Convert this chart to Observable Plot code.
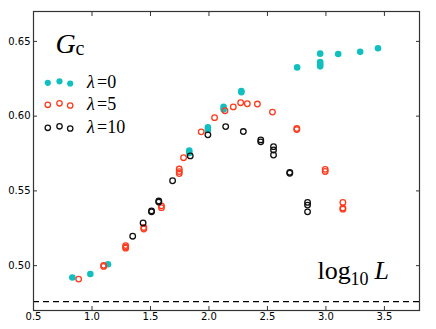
<!DOCTYPE html>
<html>
<head>
<meta charset="utf-8">
<script src="https://cdn.jsdelivr.net/npm/d3@7"></script>
<script src="https://cdn.jsdelivr.net/npm/@observablehq/plot@0.6"></script>
<style>
  body { margin: 0; background: #fff; }
</style>
</head>
<body>
<div id="chart"></div>
<script>
// λ = 0 (filled cyan)
const lam0X = [0.832, 0.986, 1.137, 1.832, 1.832, 1.991, 1.991, 2.125, 2.125, 2.277, 2.277, 2.754, 2.951, 2.951, 2.951, 2.951, 3.105, 3.293, 3.445];
const lam0Y = [0.4921, 0.4944, 0.5009, 0.5770, 0.5754, 0.5926, 0.5908, 0.6062, 0.6045, 0.6168, 0.6160, 0.6326, 0.6418, 0.6362, 0.6347, 0.6333, 0.6416, 0.6430, 0.6454];
// λ = 5 (open red)
const lam5X = [0.886, 1.100, 1.100, 1.288, 1.288, 1.288, 1.443, 1.443, 1.594, 1.594, 1.746, 1.746, 1.746, 1.783, 1.934, 2.048, 2.137, 2.208, 2.271, 2.328, 2.414, 2.543, 2.751, 2.751, 2.994, 2.994, 3.145, 3.145, 3.145];
const lam5Y = [0.4910, 0.4995, 0.5002, 0.5134, 0.5124, 0.5117, 0.5255, 0.5245, 0.5400, 0.5388, 0.5646, 0.5629, 0.5616, 0.5722, 0.5895, 0.5990, 0.6036, 0.6062, 0.6090, 0.6083, 0.6081, 0.6027, 0.5917, 0.5910, 0.5644, 0.5630, 0.5423, 0.5385, 0.5378];
// λ = 10 (open black)
const lam10X = [1.348, 1.437, 1.509, 1.509, 1.571, 1.571, 1.689, 1.840, 1.991, 2.143, 2.294, 2.443, 2.443, 2.552, 2.552, 2.552, 2.691, 2.691, 2.843, 2.843, 2.843];
const lam10Y = [0.5197, 0.5286, 0.5366, 0.5360, 0.5432, 0.5425, 0.5568, 0.5734, 0.5875, 0.5930, 0.5897, 0.5841, 0.5828, 0.5796, 0.5774, 0.5740, 0.5624, 0.5618, 0.5423, 0.5405, 0.5360];

const xTicks = [0.5, 1.0, 1.5, 2.0, 2.5, 3.0, 3.5];
const yTicks = [0.50, 0.55, 0.60, 0.65];
const baseline = [0.476];
const legendLabels = ["=0", "=5", "=10"];

const cyan = "#12bfbf";
const red = "#ff3b1f";
const black = "#111";

const toPts = (xs, ys) => xs.map((x, i) => ({x, y: ys[i]}));

const serif = "'Liberation Serif', 'DejaVu Serif', serif";

// legend marks
const legendMarks = [];
const colX = [14.3, 26, 36.7];
const rowY = [71.3, 93.3, 116.3];
const jitter = [0, -1.5, 0.7];
const rowColors = [cyan, red, black];
rowY.forEach((ry, r) => {
  colX.forEach((cx, c) => {
    const opts = {frameAnchor: "top-left", dx: cx, dy: ry + jitter[c], r: r === 0 ? 3.1 : 2.7};
    if (r === 0) Object.assign(opts, {fill: rowColors[r], stroke: "none"});
    else Object.assign(opts, {fill: "none", stroke: rowColors[r], strokeWidth: 1.3});
    legendMarks.push(Plot.dot([0], opts));
  });
  legendMarks.push(Plot.text(["λ"], {frameAnchor: "top-left", dx: 53.5, dy: ry + 5, text: d => d, textAnchor: "start", lineAnchor: "bottom", fontFamily: serif, fontStyle: "italic", fontSize: 18, fill: "#000"}));
  legendMarks.push(Plot.text([legendLabels[r]], {frameAnchor: "top-left", dx: 63.5, dy: ry + 5, text: d => d, textAnchor: "start", lineAnchor: "bottom", fontFamily: serif, fontSize: 18, fill: "#000"}));
});

const chart = Plot.plot({
  width: 436,
  height: 329,
  marginLeft: 33,
  marginRight: 17,
  marginTop: 11,
  marginBottom: 19,
  style: {fontFamily: "'DejaVu Sans', sans-serif", fontSize: "10px", color: "#000", background: "#fff"},
  x: {domain: [0.5, 3.8]},
  y: {domain: [0.47, 0.67]},
  marks: [
    Plot.ruleY(baseline, {stroke: "#000", strokeWidth: 1.2, strokeDasharray: "6,4"}),
    Plot.axisX({ticks: xTicks, tickFormat: d3.format(".1f"), tickSize: -4, tickPadding: 6.5, label: null, anchor: "bottom", stroke: "#333"}),
    Plot.axisX({ticks: xTicks, tickFormat: () => "", tickSize: -4, label: null, anchor: "top", stroke: "#333"}),
    Plot.axisY({ticks: yTicks, tickFormat: d3.format(".2f"), tickSize: -4, tickPadding: 7, label: null, anchor: "left", stroke: "#333"}),
    Plot.axisY({ticks: yTicks, tickFormat: () => "", tickSize: -4, label: null, anchor: "right", stroke: "#333"}),
    Plot.frame({stroke: "#333", strokeWidth: 1.2}),
    Plot.dot(toPts(lam0X, lam0Y), {x: "x", y: "y", r: 3.3, fill: cyan, stroke: "none"}),
    Plot.dot(toPts(lam5X, lam5Y), {x: "x", y: "y", r: 2.8, fill: "none", stroke: red, strokeWidth: 1.3}),
    Plot.dot(toPts(lam10X, lam10Y), {x: "x", y: "y", r: 2.8, fill: "none", stroke: black, strokeWidth: 1.3}),
    // G_c label
    Plot.text(["G"], {frameAnchor: "top-left", dx: 22, dy: 41, text: d => d, textAnchor: "start", lineAnchor: "bottom", fontFamily: serif, fontStyle: "italic", fontSize: 28, fill: "#000"}),
    Plot.text(["c"], {frameAnchor: "top-left", dx: 42, dy: 43, text: d => d, textAnchor: "start", lineAnchor: "bottom", fontFamily: serif, fontSize: 20, fill: "#000"}),
    // log10 L label
    Plot.text(["log"], {frameAnchor: "top-left", dx: 284, dy: 267.3, text: d => d, textAnchor: "start", lineAnchor: "bottom", fontFamily: serif, fontSize: 26, fill: "#000"}),
    Plot.text(["10"], {frameAnchor: "top-left", dx: 317, dy: 273, text: d => d, textAnchor: "start", lineAnchor: "bottom", fontFamily: serif, fontSize: 18, fill: "#000"}),
    Plot.text(["L"], {frameAnchor: "top-left", dx: 341, dy: 267.3, text: d => d, textAnchor: "start", lineAnchor: "bottom", fontFamily: serif, fontStyle: "italic", fontSize: 26, fill: "#000"}),
    ...legendMarks
  ]
});
document.getElementById("chart").appendChild(chart);
</script>
</body>
</html>
